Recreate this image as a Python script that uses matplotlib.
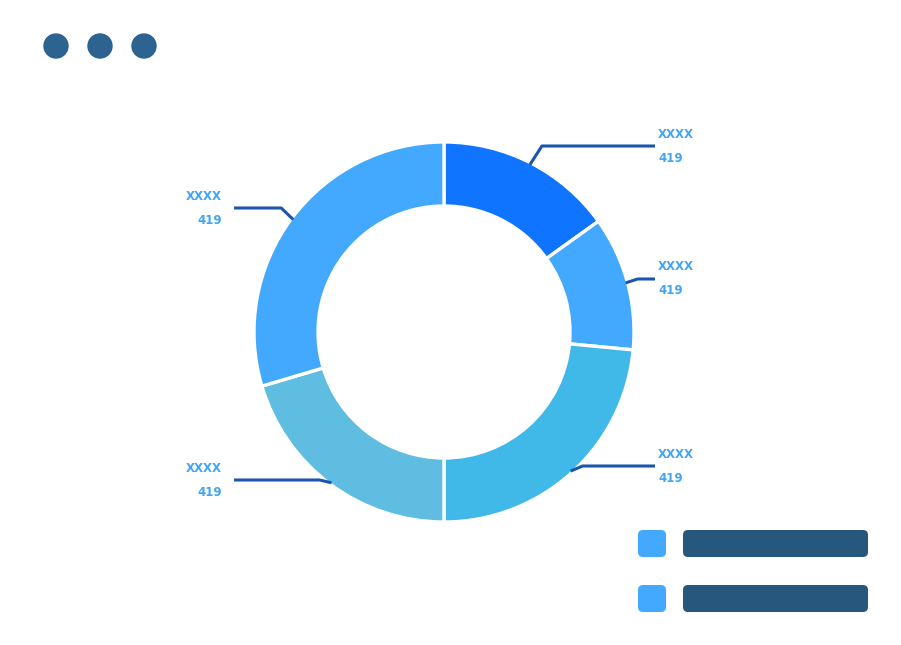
import numpy as np
import matplotlib
matplotlib.use("Agg")
import matplotlib.pyplot as plt
from matplotlib.patches import FancyBboxPatch, Circle

# ---- data ----
shares = [15.1, 11.4, 23.5, 20.4, 29.6]
slice_colors = ["#0F74FF", "#42A9FF", "#40B8E8", "#5EBDE0", "#42A9FF"]
label_titles = ["XXXX", "XXXX", "XXXX", "XXXX", "XXXX"]
label_values = ["419", "419", "419", "419", "419"]
label_sides = ["right", "right", "right", "left", "left"]
label_line_y = [146, 279, 466, 480, 208]

W, H = 901, 645
fig = plt.figure(figsize=(W / 100, H / 100), dpi=100)
ax = fig.add_axes([0, 0, 1, 1])

cx, cy, R = 444, 332, 190
# y axis is inverted (pixel coords), so start at -90 and go counterclockwise in data
# space, which shows as clockwise from the top on screen
wedges, _ = ax.pie(shares, colors=slice_colors, startangle=-90, counterclock=True,
                   center=(cx, cy), radius=R,
                   wedgeprops=dict(width=64, edgecolor="white", linewidth=2.4))
ax.set_xlim(0, W)
ax.set_ylim(H, 0)
ax.set_aspect("equal")
ax.axis("off")

line_col = "#1A56B0"
text_col = "#42A5F5"
for w, side, ly, t, v in zip(wedges, label_sides, label_line_y, label_titles, label_values):
    mid = np.deg2rad((w.theta1 + w.theta2) / 2)
    sx = cx + 0.99 * R * np.cos(mid)
    sy = cy + 0.99 * R * np.sin(mid)
    if side == "right":
        ex, tx, ha = 655, 658, "left"
        elx = sx + 12
    else:
        ex, tx, ha = 234, 222, "right"
        elx = sx - 12
    ax.plot([sx, elx, ex], [sy, ly, ly], color=line_col, lw=2.2,
            solid_capstyle="butt", zorder=5)
    ax.text(tx, ly - 12, t, ha=ha, va="center", color=text_col,
            fontsize=8.5, fontweight="bold", family="DejaVu Sans")
    ax.text(tx, ly + 12, v, ha=ha, va="center", color=text_col,
            fontsize=8.5, fontweight="bold", family="DejaVu Sans")

# window dots
for x in [56, 100, 144]:
    ax.add_patch(Circle((x, 46), 12, color="#2C6391", zorder=6))

# legend placeholders
for y in [530, 585]:
    ax.add_patch(FancyBboxPatch((638, y), 28, 27, boxstyle="round,pad=0,rounding_size=5",
                                facecolor="#42A9FF", edgecolor="none"))
    ax.add_patch(FancyBboxPatch((683, y), 185, 27, boxstyle="round,pad=0,rounding_size=5",
                                facecolor="#28577E", edgecolor="none"))

fig.savefig("out.png", dpi=100)
